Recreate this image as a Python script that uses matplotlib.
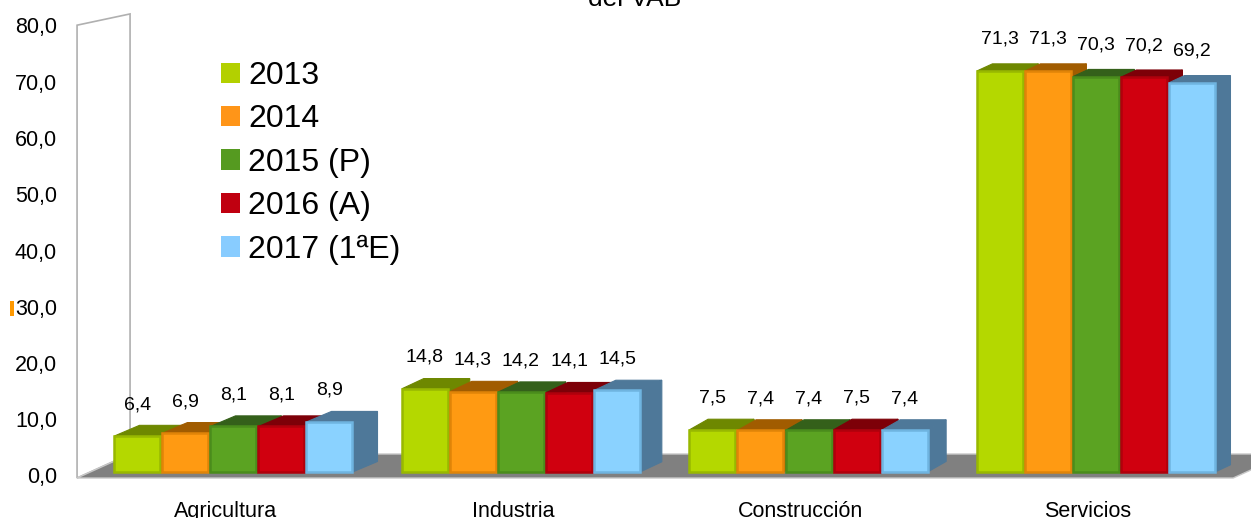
import matplotlib
matplotlib.use("Agg")
import matplotlib.pyplot as plt
from matplotlib.patches import Polygon, Patch, Rectangle

plt.rcParams["font.family"] = ["Liberation Sans", "DejaVu Sans"]

# data
sectors = ["Agricultura", "Industria", "Construcción", "Servicios"]
years = ["2013", "2014", "2015 (P)", "2016 (A)", "2017 (1ªE)"]
v2013 = [6.4, 14.8, 7.5, 71.3]
v2014 = [6.9, 14.3, 7.4, 71.3]
v2015 = [8.1, 14.2, 7.4, 70.3]
v2016 = [8.1, 14.1, 7.5, 70.2]
v2017 = [8.9, 14.5, 7.4, 69.2]
series = [v2013, v2014, v2015, v2016, v2017]
yticks = [0, 10, 20, 30, 40, 50, 60, 70, 80]

front_colors = ["#b4d800", "#ff9a12", "#5ba322", "#d0000f", "#8ad2ff"]
dark_colors = ["#6e8800", "#a15c00", "#34601a", "#7d0008", "#4e7899"]
edge_colors = ["#98b800", "#e08408", "#4a8c1c", "#b0000c", "#6fb4e0"]
legend_colors = ["#b3d000", "#ff9518", "#559a20", "#c00010", "#88ccff"]

W, H = 1251, 518
fig = plt.figure(figsize=(W / 100, H / 100), dpi=100)
ax = fig.add_axes([0, 40 / H, 1, 450 / H])
ax.set_xlim(-0.812, 3.539)
ax.set_ylim(0, 80)
ax.axis("off")

PX = 1 / 287.5      # one pixel in x data units
PY = 80 / 450       # one pixel in y data units

# back wall and floor
xl = -0.544
xr = 3.477
fdx, fdy = 53 * PX, 24 * PY
wall = Polygon([(xl, 0), (xl, 80.5), (xl + fdx, 82.5), (xl + fdx, fdy)],
               closed=True, facecolor="white", edgecolor="#b0b0b0", lw=1.2,
               clip_on=False, zorder=1)
ax.add_patch(wall)
floor = Polygon([(xl, 0), (xr, 0), (xr + fdx, fdy), (xl + fdx, fdy)],
                closed=True, facecolor="#808080", edgecolor="#c8c8c8", lw=1.0,
                clip_on=False, zorder=2)
ax.add_patch(floor)

# bars
base = 6 * PY
width = 0.16
step = 0.167
for i in range(len(sectors)):
    dx = (25 - 3.2 * i) * PX
    for j, vals in enumerate(series):
        v = vals[i]
        dy = (11 - 0.055 * v) * PY
        x0 = i + (j - 2) * step - width / 2
        side = [(x0 + width, base), (x0 + width + dx, base + dy),
                (x0 + width + dx, base + v + dy), (x0 + width, base + v)]
        top = [(x0, base + v), (x0 + width, base + v),
               (x0 + width + dx, base + v + dy), (x0 + dx, base + v + dy)]
        z = 3 + i * 10 + j
        ax.add_patch(Polygon(side, closed=True, facecolor=dark_colors[j],
                             edgecolor=dark_colors[j], lw=0.8, zorder=z, clip_on=False))
        ax.add_patch(Polygon(top, closed=True, facecolor=dark_colors[j],
                             edgecolor=dark_colors[j], lw=0.8, zorder=z, clip_on=False))
        ax.bar(x0 + width / 2, v, width, bottom=base, color=front_colors[j],
               edgecolor=edge_colors[j], lw=1.8, zorder=z + 0.5, clip_on=False)
        ax.text(x0 + width / 2, base + v + 5.6, f"{v:.1f}".replace(".", ","),
                ha="center", va="center", fontsize=14, zorder=60)

# y tick labels
for t in yticks:
    ax.text(-0.614, t, f"{t:.1f}".replace(".", ","), ha="right", va="center",
            fontsize=15.5, clip_on=False)

# category labels
for i, name in enumerate(sectors):
    ax.text(i - 8 * PX, -5.9, name, ha="center", va="center", fontsize=15.5,
            clip_on=False)

# legend
handles = [Patch(facecolor=c, edgecolor="none") for c in legend_colors]
fig.legend(handles, years, loc="upper left",
           bbox_to_anchor=(221 / W, (H - 61) / H), frameon=False,
           fontsize=23, handlelength=0.6, handleheight=0.6,
           handletextpad=0.25, labelspacing=0.42, borderpad=0, borderaxespad=0)

# title (cut off at the top of the image, as in the source)
fig.text(635 / W, (H - 6) / H, "del VAB", ha="center", va="baseline", fontsize=19)

# small orange mark next to the 30,0 label
fig.patches.append(Rectangle((10 / W, (H - 316) / H), 4 / W, 15 / H,
                             transform=fig.transFigure, facecolor="#ff9900",
                             edgecolor="none"))

fig.savefig("out.png", dpi=100)
